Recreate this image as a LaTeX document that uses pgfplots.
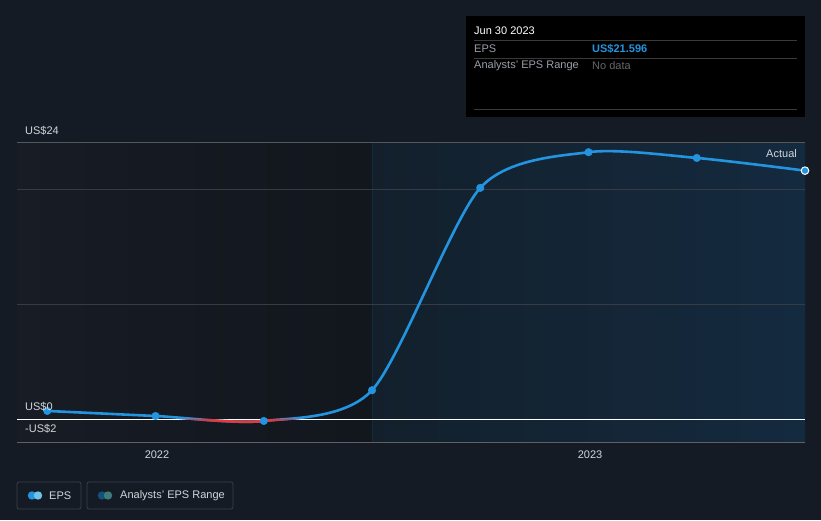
\documentclass[border=0pt]{standalone}
\usepackage{pgfplots}
\pgfplotsset{compat=1.18}
\usepackage{fontspec}
\setmainfont{Liberation Sans}
\definecolor{bg}{HTML}{151B24}
\definecolor{eps}{HTML}{2394DF}
\definecolor{neg}{HTML}{E0393E}
\definecolor{gridc}{HTML}{363C45}
\definecolor{txt}{HTML}{D2D6DC}
\definecolor{dim}{HTML}{9AA0A8}
\definecolor{lbox}{HTML}{3A4049}
\definecolor{pastL}{HTML}{171C25}
\definecolor{pastR}{HTML}{12161D}
\definecolor{nowL}{HTML}{13202C}
\definecolor{nowR}{HTML}{142A3F}
\begin{document}
\begin{tikzpicture}[font=\fontsize{11}{13}\selectfont]
\fill[bg] (0pt,0pt) rectangle (821pt,520pt);
% x is years after 2021
\begin{axis}[
  at={(17pt,78pt)}, anchor=south west,
  scale only axis, width=788pt, height=299pt,
  xmin=0.68, xmax=2.5, ymin=-2, ymax=24,
  axis lines=none, ticks=none,
]
\fill[left color=pastL, right color=pastR] (axis cs:0.68,-2) rectangle (axis cs:1.5,24);
\fill[left color=nowL, right color=nowR] (axis cs:1.5,-2) rectangle (axis cs:2.5,24);
\draw[nowL!80!eps, line width=0.8pt, opacity=0.5] (axis cs:1.5,-2) -- (axis cs:1.5,24);
\draw[gridc, line width=0.8pt] (axis cs:0.68,10) -- (axis cs:2.5,10);
\draw[gridc, line width=0.8pt] (axis cs:0.68,20) -- (axis cs:2.5,20);
\draw[gray!60!bg, line width=1pt] (axis cs:0.68,24) -- (axis cs:2.5,24);
\draw[gray!70!bg, line width=1pt] (axis cs:0.68,-2) -- (axis cs:2.5,-2);
\draw[white, line width=1pt] (axis cs:0.68,0) -- (axis cs:2.5,0);
\addplot[eps, line width=2.6pt, smooth, tension=0.45] coordinates {
  (0.75,0.70) (1.00,0.26) (1.25,-0.17) (1.50,2.50)
  (1.75,20.10) (2.00,23.20) (2.25,22.70) (2.50,21.596)};
\begin{scope}
\clip (axis cs:0.6,0) rectangle (axis cs:2.6,-3);
\addplot[neg, line width=2.6pt, smooth, tension=0.45] coordinates {
  (0.75,0.70) (1.00,0.26) (1.25,-0.17) (1.50,2.50)
  (1.75,20.10) (2.00,23.20) (2.25,22.70) (2.50,21.596)};
\end{scope}
\addplot[only marks, mark=*, mark size=3.8pt, mark options={fill=eps, draw=eps}] coordinates {
  (0.75,0.70) (1.00,0.26) (1.25,-0.17) (1.50,2.50)
  (1.75,20.10) (2.00,23.20) (2.25,22.70)};
\addplot[only marks, mark=*, mark size=3.8pt, mark options={fill=eps, draw=white, line width=1pt}] coordinates {(2.50,21.596)};
\draw[gray!70!bg, line width=1pt] (axis cs:1,-2) -- ++(0pt,-5pt);
\draw[gray!70!bg, line width=1pt] (axis cs:2,-2) -- ++(0pt,-5pt);
\end{axis}
\begin{scope}[x=1pt,y=1pt]
\node[anchor=west, txt, inner sep=0] at (25,389) {US\$24};
\node[anchor=west, txt, inner sep=0] at (25,113) {US\$0};
\node[anchor=west, txt, inner sep=0] at (25,91) {-US\$2};
\node[txt, inner sep=0] at (157,65) {2022};
\node[txt, inner sep=0] at (590,65) {2023};
\node[anchor=east, txt, inner sep=0] at (797,366) {Actual};
% tooltip
\fill[black] (466,403) rectangle (805,504);
\node[anchor=west, white, inner sep=0] at (474,489) {Jun 30 2023};
\draw[gray!45!black, line width=0.8pt] (474,480) -- (797,480);
\node[anchor=west, dim, inner sep=0] at (474,471) {EPS};
\node[anchor=west, eps, inner sep=0] at (592,471) {\bfseries US\$21.596};
\draw[gray!45!black, line width=0.8pt] (474,462) -- (797,462);
\node[anchor=west, dim, inner sep=0] at (474,454) {Analysts' EPS Range};
\node[anchor=west, gray!80!black, inner sep=0] at (592,454) {No data};
\draw[gray!45!black, line width=0.8pt] (474,411) -- (797,411);
% legend
\draw[lbox, line width=0.8pt, rounded corners=2pt] (17,11) rectangle (81,38);
\fill[eps] (32,24.5) circle (4.2);
\fill[cyan!55!white!85!teal] (38,24.5) circle (4.2);
\node[anchor=west, txt, inner sep=0] at (49,24.5) {EPS};
\draw[lbox, line width=0.8pt, rounded corners=2pt] (87,11) rectangle (233,38);
\fill[eps!55!black] (102,24.5) circle (4.2);
\fill[teal!70!gray!80!white!80!black] (108,24.5) circle (4.2);
\node[anchor=west, txt, inner sep=0] at (120,24.5) {Analysts' EPS Range};
\end{scope}
\end{tikzpicture}
\end{document}
